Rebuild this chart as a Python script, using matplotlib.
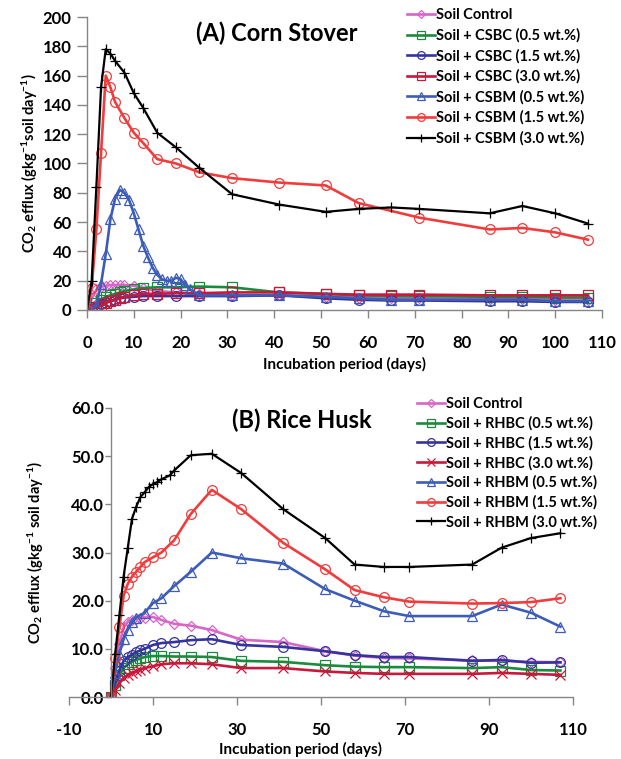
import matplotlib
matplotlib.use("Agg")
import matplotlib.pyplot as plt
import numpy as np

plt.rcParams['font.family'] = ['Lato', 'DejaVu Sans']
plt.rcParams['font.weight'] = 'bold'
plt.rcParams['mathtext.default'] = 'regular'
plt.rcParams['axes.unicode_minus'] = False

# ---------------- (A) Corn Stover ----------------
labels_a = ["Soil Control", "Soil + CSBC (0.5 wt.%)", "Soil + CSBC (1.5 wt.%)",
            "Soil + CSBC (3.0 wt.%)", "Soil + CSBM (0.5 wt.%)",
            "Soil + CSBM (1.5 wt.%)", "Soil + CSBM (3.0 wt.%)"]

days_a_low = [0, 1, 2, 3, 4, 5, 6, 7, 8, 10, 12, 15, 19, 24, 31, 41, 51, 58, 65, 71, 86, 93, 100, 107]
ctrl_a = [0, 8, 14, 16, 16.5, 17, 17, 17, 17, 16.5, 15, 13, 12, 11, 10, 10, 9, 8.5, 8, 8, 7.5, 7.5, 7, 7]
csbc05 = [0, 2, 5, 7, 9, 10, 11, 12, 13, 14, 15, 15.5, 15.5, 16, 15.5, 12, 11, 10, 9.5, 9.5, 9, 9, 8.5, 8.5]
csbc15 = [0, 1, 2, 4, 5, 6, 7, 8, 8.5, 9, 9.5, 9.5, 9.5, 9.5, 9.5, 10, 8, 7, 6.5, 6.5, 6, 6, 5.5, 5.5]
csbc30 = [0, 1, 2, 3, 5, 6, 7, 8, 9, 10, 11, 11, 11.5, 11.5, 12, 12, 11, 10.5, 10.5, 10.5, 10, 10, 10, 10]

days_csbm05 = [0, 1, 2, 3, 4, 5, 6, 7, 8, 9, 10, 11, 12, 13, 14, 15, 16, 17, 18, 19, 20, 21, 22, 24,
               31, 41, 51, 58, 65, 71, 86, 93, 100, 107]
csbm05 = [0, 0, 3, 18, 38, 62, 76, 82, 80, 75, 66, 55, 44, 36, 29, 24, 21, 20, 20, 22, 21, 17, 14, 10,
          10, 10, 9, 8, 7, 7, 7, 7, 6, 6]

days_csbm15 = [0, 1, 2, 3, 4, 5, 6, 8, 10, 12, 15, 19, 24, 31, 41, 51, 58, 71, 86, 93, 100, 107]
csbm15 = [0, 15, 55, 107, 160, 152, 142, 131, 121, 114, 103, 100, 94, 90, 87, 85, 73, 63, 55, 56, 53, 48]

days_csbm30 = [0, 1, 2, 3, 4, 5, 6, 8, 10, 12, 15, 19, 24, 31, 41, 51, 58, 65, 71, 86, 93, 100, 107]
csbm30 = [0, 20, 84, 152, 178, 175, 170, 162, 148, 138, 121, 111, 97, 79, 72, 67, 69, 70, 69, 66, 71, 66, 59]

# ---------------- (B) Rice Husk ----------------
labels_b = ["Soil Control", "Soil + RHBC (0.5 wt.%)", "Soil + RHBC (1.5 wt.%)",
            "Soil + RHBC (3.0 wt.%)", "Soil + RHBM (0.5 wt.%)",
            "Soil + RHBM (1.5 wt.%)", "Soil + RHBM (3.0 wt.%)"]

days_b_low = [0, 1, 2, 3, 4, 5, 6, 7, 8, 10, 12, 15, 19, 24, 31, 41, 51, 58, 65, 71, 86, 93, 100, 107]
ctrl_b = [0, 6, 11, 14.5, 15.6, 16, 16.2, 16.4, 16.5, 16.6, 16, 15.2, 14.8, 13.9, 11.9, 11.4, 9.5, 8.6, 8.1, 8.0, 7.6, 7.5, 7.3, 7.2]
rhbc05 = [0, 2.5, 4.5, 6, 6.8, 7.3, 7.7, 8, 8.3, 8.5, 8.5, 8.4, 8.4, 8.3, 7.5, 7.3, 6.6, 6.3, 6.2, 6.2, 6.0, 6.2, 5.6, 5.5]
rhbc15 = [0, 3, 5.5, 7.5, 8.3, 8.8, 9.3, 9.7, 10, 10.8, 11.2, 11.4, 11.8, 12, 10.8, 10.4, 9.5, 8.7, 8.3, 8.3, 7.5, 7.7, 7.1, 7.2]
rhbc30 = [0, 1.5, 3, 4, 4.6, 5, 5.3, 5.7, 6, 6.4, 6.8, 7, 7, 6.8, 6, 6, 5.3, 5, 4.8, 4.8, 4.8, 5, 4.8, 4.6]

days_rhbm05 = [0, 1, 2, 3, 4, 5, 6, 8, 10, 12, 15, 19, 24, 31, 41, 51, 58, 65, 71, 86, 93, 100, 107]
rhbm05 = [0, 5, 9, 12, 14, 15.5, 16.5, 17.5, 19.5, 20.5, 23, 26, 30, 28.8, 27.7, 22.4, 20, 17.8, 16.8, 16.8, 19.2, 17.5, 14.6]

days_rhbm15 = [0, 1, 2, 3, 4, 5, 6, 7, 8, 10, 12, 15, 19, 24, 31, 41, 51, 58, 65, 71, 86, 93, 100, 107]
rhbm15 = [0, 8, 14.5, 21, 23.5, 25, 26, 27, 28, 29, 30, 32.5, 38, 43, 39, 32, 26.5, 22.2, 20.7, 19.8, 19.4, 19.5, 19.7, 20.5]

days_rhbm30 = [0, 1, 2, 3, 4, 5, 6, 7, 8, 9, 10, 11, 12, 14, 15, 19, 24, 31, 41, 51, 58, 65, 71, 86, 93, 100, 107]
rhbm30 = [0, 9, 17, 25, 31, 37, 39.5, 41.5, 42.5, 43.6, 44.2, 44.6, 45.2, 46, 47, 50.2, 50.5, 46.5, 39, 33,
          27.5, 27, 27, 27.5, 31, 33, 34]

colors = ["#d865c8", "#1a8a3c", "#34349c", "#c8183c", "#3d5cb8", "#f03c3c", "#000000"]
markers_a = ["D", "s", "o", "s", "^", "o", "+"]
markers_b = ["D", "s", "o", "x", "^", "o", "+"]

fig = plt.figure(figsize=(6.21, 7.59), dpi=100)

axA = fig.add_axes([87/621, 1-310/759, 515/621, 293/759])
axB = fig.add_axes([69/621, 1-697/759, 504/621, 289/759])

series_a = [(days_a_low, ctrl_a), (days_a_low, csbc05), (days_a_low, csbc15), (days_a_low, csbc30),
            (days_csbm05, csbm05), (days_csbm15, csbm15), (days_csbm30, csbm30)]
series_b = [(days_b_low, ctrl_b), (days_b_low, rhbc05), (days_b_low, rhbc15), (days_b_low, rhbc30),
            (days_rhbm05, rhbm05), (days_rhbm15, rhbm15), (days_rhbm30, rhbm30)]

for ax, series, labels, markers in [(axA, series_a, labels_a, markers_a),
                                     (axB, series_b, labels_b, markers_b)]:
    for (d, v), lab, c, m in zip(series, labels, colors, markers):
        lw = 1.6 if c == "#000000" else 1.9
        ms = 5 if m == "D" else 7
        ax.plot(d, v, color=c, lw=lw, marker=m, ms=ms, mfc="none", mec=c, mew=0.9, label=lab)

# axis A
axA.set_xlim(0, 110)
axA.set_ylim(0, 200)
axA.set_xticks(np.arange(0, 111, 10))
axA.set_yticks(np.arange(0, 201, 20))
axA.set_xlabel("Incubation period (days)", fontsize=11, fontweight="bold")
axA.set_ylabel("CO$_2$ efflux (gkg$^{-1}$soil day$^{-1}$)", fontsize=10.5, fontweight="bold")
axA.xaxis.set_label_coords(0.5, -0.16)
axA.yaxis.set_label_coords(-0.091, 0.5)
axA.text(196/621, 1-33/759, "(A) Corn Stover", transform=fig.transFigure, fontsize=17,
         fontweight="bold", va="center", ha="left")
axA.legend(loc="upper left", bbox_to_anchor=(407/621, 1-8/759), bbox_transform=fig.transFigure,
           frameon=False, fontsize=10.5, handlelength=1.9, handletextpad=0.1, labelspacing=0.42,
           borderpad=0, borderaxespad=0, markerscale=0.8)

# axis B
axB.set_xlim(-10, 110)
axB.set_ylim(0, 60)
axB.set_xticks(np.arange(-10, 111, 20))
axB.set_yticks(np.arange(0, 61, 10))
axB.set_yticklabels(["%.1f" % t for t in np.arange(0, 61, 10)])
axB.spines["left"].set_position(("data", 0))
axB.set_xlabel("Incubation period (days)", fontsize=11, fontweight="bold")
axB.set_ylabel("CO$_2$ efflux (gkg$^{-1}$ soil day$^{-1}$)", fontsize=10.5, fontweight="bold")
axB.xaxis.set_label_coords(0.46, -0.157)
axB.yaxis.set_label_coords(-0.046, 0.5)
axB.text(232/621, 1-420/759, "(B) Rice Husk", transform=fig.transFigure, fontsize=17,
         fontweight="bold", va="center", ha="left")
axB.legend(loc="upper left", bbox_to_anchor=(417/621, 1-397/759), bbox_transform=fig.transFigure,
           frameon=False, fontsize=10.5, handlelength=1.9, handletextpad=0.1, labelspacing=0.36,
           borderpad=0, borderaxespad=0, markerscale=0.8)

for ax in (axA, axB):
    for s in ("top", "right"):
        ax.spines[s].set_visible(False)
    for s in ("left", "bottom"):
        ax.spines[s].set_color("#868686")
        ax.spines[s].set_linewidth(1.0)
    ax.tick_params(direction="out", width=1.0, color="#868686", labelsize=12)
    ax.tick_params(axis="x", length=6, pad=12)
    for t in ax.get_xticklabels() + ax.get_yticklabels():
        t.set_fontweight("bold")
    ax.patch.set_alpha(0)

axA.tick_params(axis="y", length=7, pad=4)
axB.tick_params(axis="y", length=4, pad=1)

for t in axB.get_yticklabels():
    t.set_bbox(dict(fc="white", ec="none", pad=0.5))

fig.savefig("out.png", dpi=100)
